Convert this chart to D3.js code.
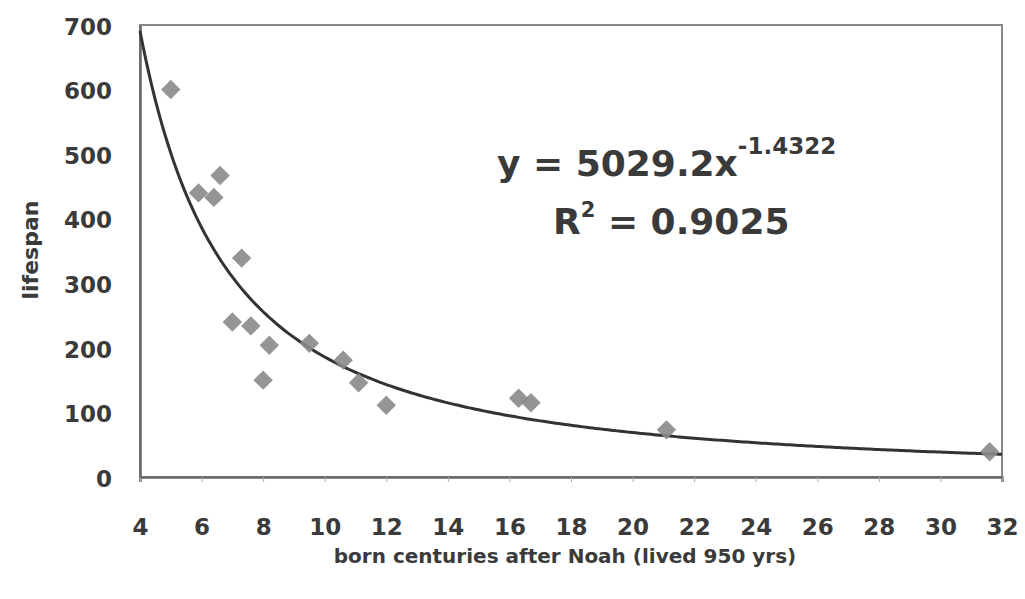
<!DOCTYPE html>
<html>
<head>
<meta charset="utf-8">
<script src="https://cdn.jsdelivr.net/npm/d3@7"></script>
<style>
  body { margin: 0; background: #fff; }
  text { font-family: "DejaVu Sans", sans-serif; font-weight: bold; fill: #3a3a3a; }
</style>
</head>
<body>
<div id="chart"></div>
<script>
// born centuries after Noah vs lifespan
var bornX = [5, 5.9, 6.4, 6.6, 7.3, 7.0, 7.6, 8.2, 8.0, 9.5, 10.6, 11.1, 12.0, 16.3, 16.7, 21.1, 31.6];
var lifespan = [600, 440, 433, 467, 339, 240, 234, 204, 150, 207, 181, 146, 111, 122, 115, 73, 39];
var xTicks = [4, 6, 8, 10, 12, 14, 16, 18, 20, 22, 24, 26, 28, 30, 32];
var yTicks = [0, 100, 200, 300, 400, 500, 600, 700];
var fitA = 5029.2, fitB = -1.4322;

var width = 1025, height = 599;
var margin = {left: 140, top: 25, right: 23, bottom: 122};
var w = width - margin.left - margin.right;
var h = height - margin.top - margin.bottom;

var svg = d3.select("#chart").append("svg")
    .attr("width", width)
    .attr("height", height);

var g = svg.append("g")
    .attr("transform", "translate(" + margin.left + "," + margin.top + ")");

var x = d3.scaleLinear().domain([4, 32]).range([0, w]);
var y = d3.scaleLinear().domain([0, 700]).range([h, 0]);

// plot frame
g.append("rect")
    .attr("width", w)
    .attr("height", h)
    .attr("fill", "#fff")
    .attr("stroke", "#888")
    .attr("stroke-width", 2);

var xAxis = g.append("g")
    .attr("transform", "translate(0," + h + ")")
    .call(d3.axisBottom(x).tickValues(xTicks).tickSize(5).tickPadding(37));
xAxis.select(".domain").attr("stroke", "#666").attr("stroke-width", 2.5);
xAxis.selectAll("line").attr("stroke", "#aaa");
xAxis.selectAll("text").style("font-size", "23px").attr("fill", "#3a3a3a");

var yAxis = g.append("g")
    .call(d3.axisLeft(y).tickValues(yTicks).tickSize(0).tickPadding(28));
yAxis.select(".domain").attr("stroke", "#666").attr("stroke-width", 2.5);
yAxis.selectAll("text").style("font-size", "23px").attr("fill", "#3a3a3a").attr("dy", "0.4em");

// power trendline
var curve = d3.range(4, 32.01, 0.1).map(function(v){ return [v, fitA * Math.pow(v, fitB)]; });
g.append("path")
    .datum(curve)
    .attr("fill", "none")
    .attr("stroke", "#333")
    .attr("stroke-width", 3)
    .attr("d", d3.line().x(function(d){ return x(d[0]); }).y(function(d){ return y(d[1]); }));

// diamonds
var pts = bornX.map(function(v, i){ return [v, lifespan[i]]; });
g.selectAll(".pt")
    .data(pts)
  .enter().append("path")
    .attr("class", "pt")
    .attr("d", d3.symbol().type(d3.symbolDiamond2).size(240))
    .attr("transform", function(d){ return "translate(" + x(d[0]) + "," + y(d[1]) + ")"; })
    .attr("fill", "#8a8a8a")
    .attr("opacity", 0.9);

// equation
var eq = svg.append("text")
    .attr("x", 497)
    .attr("y", 176)
    .style("font-size", "36px");
eq.append("tspan").text("y = 5029.2x");
eq.append("tspan").attr("dy", "-22").style("font-size", "23px").text("-1.4322");

var r2 = svg.append("text")
    .attr("x", 553)
    .attr("y", 234)
    .style("font-size", "36px");
r2.append("tspan").text("R");
r2.append("tspan").attr("dy", "-17").style("font-size", "21px").text("2");
r2.append("tspan").attr("dy", "17").text(" = 0.9025");

// axis titles
svg.append("text")
    .attr("x", 565)
    .attr("y", 563)
    .attr("text-anchor", "middle")
    .style("font-size", "20px")
    .text("born centuries after Noah (lived 950 yrs)");

svg.append("text")
    .attr("transform", "translate(38,250) rotate(-90)")
    .attr("text-anchor", "middle")
    .style("font-size", "22px")
    .text("lifespan");
</script>
</body>
</html>
